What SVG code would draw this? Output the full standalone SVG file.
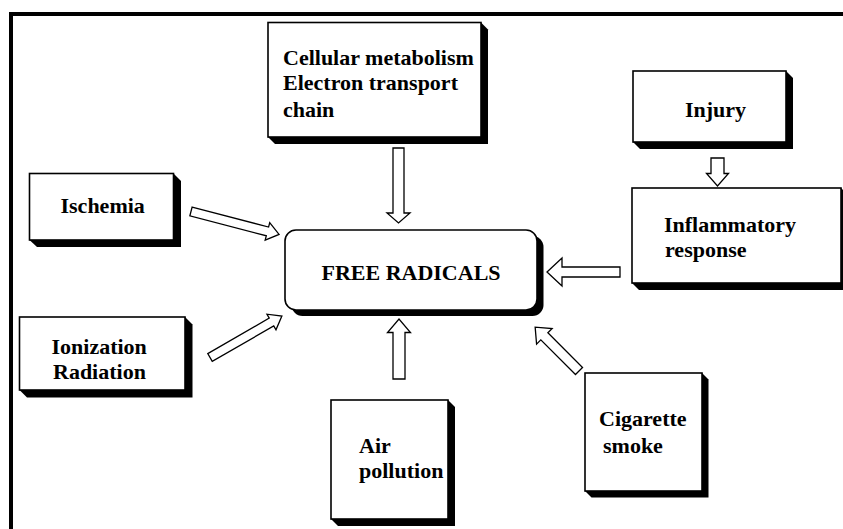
<svg xmlns="http://www.w3.org/2000/svg" width="843" height="529" viewBox="0 0 843 529">
<style>
.box{fill:#fff;stroke:#000;stroke-width:1.6}
.sh{fill:#000}
.arr{fill:#fff;stroke:#000;stroke-width:1.3;stroke-linejoin:miter}
text{font-family:"Liberation Serif","Times New Roman",serif;font-weight:bold;font-size:22px;fill:#000}
</style>
<rect width="843" height="529" fill="#fff"/>
<g id="frame">
<rect x="9" y="12" width="834" height="4" fill="#000"/>
<rect x="9" y="12" width="4" height="517" fill="#000"/>
</g>
<g id="connectors">
<polygon class="arr" transform="translate(191,211.5) rotate(14.6)" points="0,-4.5 79,-4.5 79,-9 91,0 79,9 79,4.5 0,4.5"/>
<polygon class="arr" transform="translate(210,357.5) rotate(-30)" points="0,-4.5 71,-4.5 71,-9 83,0 71,9 71,4.5 0,4.5"/>
<polygon class="arr" transform="translate(579,371) rotate(-135)" points="0,-5 49,-5 49,-11 62,0 49,11 49,5 0,5"/>
<polygon class="arr" transform="translate(398.5,148) rotate(90)" points="0,-5.5 65,-5.5 65,-11.5 75,0 65,11.5 65,5.5 0,5.5"/>
<polygon class="arr" transform="translate(399,379) rotate(-90)" points="0,-6 46.5,-6 46.5,-11.5 60,0 46.5,11.5 46.5,6 0,6"/>
<polygon class="arr" transform="translate(717.5,158) rotate(90)" points="0,-6.5 15.5,-6.5 15.5,-11 28,0 15.5,11 15.5,6.5 0,6.5"/>
<polygon class="arr" transform="translate(620,272) rotate(180)" points="0,-5 58,-5 58,-14 73,0 58,14 58,5 0,5"/>
</g>
<g id="cellular">
<polygon class="sh" points="481,22.5 488,29.5 488,144 275,144 268,137"/>
<rect class="box" x="268" y="22.5" width="213" height="114.5"/>
<text x="283" y="64.5">Cellular metabolism</text>
<text x="283" y="90">Electron transport</text>
<text x="283" y="116.5">chain</text>
</g>
<g id="injury">
<polygon class="sh" points="786,71 793,78 793,149 640,149 633,142"/>
<rect class="box" x="633" y="71" width="153" height="71"/>
<text x="685" y="116.5">Injury</text>
</g>
<g id="inflammatory">
<polygon class="sh" points="841,188 848,195 848,290 639,290 632,283"/>
<rect class="box" x="632" y="188" width="209" height="95"/>
<text x="664" y="231.5">Inflammatory</text>
<text x="665" y="256.5">response</text>
</g>
<g id="ischemia">
<polygon class="sh" points="173.5,173.5 181,181 181,247 37,247 29.5,240"/>
<rect class="box" x="29.5" y="173.5" width="144" height="66.5"/>
<text x="60.5" y="213">Ischemia</text>
</g>
<g id="ionization">
<polygon class="sh" points="185,317 192.5,324.5 192.5,397.5 27,397.5 19.5,390"/>
<rect class="box" x="19.5" y="317" width="165.5" height="73"/>
<text x="51.5" y="354">Ionization</text>
<text x="53" y="379">Radiation</text>
</g>
<g id="free-radicals">
<rect class="sh" x="291.5" y="236" width="252" height="80" rx="11"/>
<rect class="box" x="285" y="230" width="252" height="80" rx="11"/>
<text x="411" y="280" text-anchor="middle" font-size="23">FREE RADICALS</text>
</g>
<g id="air-pollution">
<polygon class="sh" points="448,400 455,407 455,526 338,526 331,519"/>
<rect class="box" x="331" y="400" width="117" height="119"/>
<text x="359" y="452.5">Air</text>
<text x="359" y="477.5">pollution</text>
</g>
<g id="cigarette-smoke">
<polygon class="sh" points="702,373 708.5,379.5 708.5,497.5 591.5,497.5 585,491"/>
<rect class="box" x="585" y="373" width="117" height="118"/>
<text x="599" y="426">Cigarette</text>
<text x="603" y="452.5">smoke</text>
</g>
</svg>
